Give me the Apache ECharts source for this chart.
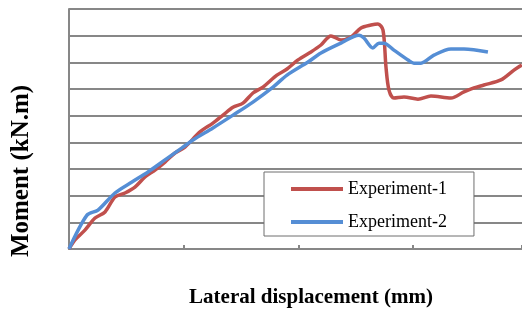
<!DOCTYPE html>
<html>
<head>
<meta charset="utf-8">
<script src="https://cdn.jsdelivr.net/npm/echarts@6/dist/echarts.min.js"></script>
<style>
  html, body { margin: 0; padding: 0; background: #fff; }
  #chart { width: 522px; height: 311px; }
</style>
</head>
<body>
<div id="chart"></div>
<script>
// Experiment-1 (red) : [displacement, moment]
const exp1 = [
  [0, 0], [0.52, 3.4], [1.39, 7.1], [2.27, 11.6], [3.14, 13.9], [4.01, 19.5],
  [4.88, 21.0], [5.75, 23.2], [6.63, 27.0], [7.5, 29.6], [8.37, 32.6],
  [9.24, 36.0], [10.11, 38.2], [11.42, 43.9], [12.55, 47.2], [13.43, 50.2],
  [14.3, 53.2], [15.17, 54.7], [16.04, 58.5], [16.91, 60.7], [18.13, 65.2],
  [19.01, 67.5], [19.97, 70.9], [21.1, 73.9], [21.97, 76.5], [22.84, 79.9],
  [23.71, 78.4], [24.59, 79.5], [25.46, 82.9], [26.33, 84.0], [26.94, 84.4],
  [27.38, 82.1], [27.64, 68.2], [27.9, 59.6], [28.33, 56.6], [29.21, 57.0],
  [30.43, 56.2], [31.56, 57.4], [33.3, 56.6], [34.44, 58.9], [35.31, 60.4],
  [36.18, 61.5], [37.66, 63.4], [38.8, 67.1], [39.49, 69.0]
]

// Experiment-2 (blue)
const exp2 = [
  [0, 0], [1.57, 12.7], [2.53, 14.6], [4.01, 21.0], [5.49, 25.1], [6.89, 28.9],
  [8.37, 33.4], [9.85, 37.9], [10.81, 40.9], [12.55, 45.4], [14.3, 50.2],
  [16.04, 55.1], [17.79, 60.7], [19.01, 65.2], [20.84, 70.1], [21.97, 73.5],
  [23.71, 77.2], [25.28, 80.2], [25.72, 79.1], [26.5, 75.4], [27.03, 77.2],
  [27.46, 77.2], [28.33, 74.6], [29.56, 70.9], [30.08, 69.7], [30.69, 69.7],
  [31.82, 72.7], [33.3, 75.0], [34.44, 75.0], [36.53, 73.9]
]

const seriesNames = ['Experiment-1', 'Experiment-2']
const seriesColors = ['#C0504D', '#558ED5']

const chart = echarts.init(document.getElementById('chart'))

const gridColor = '#878787'
const serif = '"Liberation Serif", "DejaVu Serif", serif'

const option = {
  animation: false,
  grid: { left: 69, right: 0, top: 9, bottom: 62 },
  xAxis: {
    type: 'value',
    min: 0,
    max: 39.5,
    interval: 10,
    axisLine: { show: true, lineStyle: { color: gridColor, width: 2 } },
    axisTick: { show: true, inside: true, length: 4, lineStyle: { color: gridColor, width: 2 } },
    axisLabel: { show: false },
    splitLine: { show: false }
  },
  yAxis: {
    type: 'value',
    min: 0,
    max: 90,
    interval: 10,
    axisLine: { show: true, lineStyle: { color: gridColor, width: 2 } },
    axisTick: { show: false },
    axisLabel: { show: false },
    splitLine: { show: true, lineStyle: { color: gridColor, width: 2 } }
  },
  legend: {
    orient: 'vertical',
    left: 264,
    top: 172,
    padding: [8, 27, 5, 27],
    icon: 'rect',
    itemWidth: 52,
    itemHeight: 4,
    itemGap: 15,
    backgroundColor: '#fff',
    borderColor: '#6e6e6e',
    borderWidth: 1,
    textStyle: { fontFamily: serif, fontSize: 18, color: '#000' },
    data: seriesNames
  },
  graphic: [
    {
      type: 'text',
      x: 22,
      y: 171,
      rotation: Math.PI / 2,
      style: {
        text: 'Moment (kN.m)',
        font: 'bold 25px ' + serif,
        fill: '#000',
        align: 'center',
        verticalAlign: 'middle'
      }
    },
    {
      type: 'text',
      x: 311,
      y: 298,
      style: {
        text: 'Lateral displacement (mm)',
        font: 'bold 21px ' + serif,
        fill: '#000',
        align: 'center',
        verticalAlign: 'middle'
      }
    }
  ],
  series: [
    {
      name: seriesNames[0],
      type: 'line',
      data: exp1,
      symbol: 'none',
      smooth: 0.3,
      lineStyle: { color: seriesColors[0], width: 3.5 },
      itemStyle: { color: seriesColors[0] }
    },
    {
      name: seriesNames[1],
      type: 'line',
      data: exp2,
      symbol: 'none',
      smooth: 0.3,
      lineStyle: { color: seriesColors[1], width: 3.5 },
      itemStyle: { color: seriesColors[1] }
    }
  ]
}

chart.setOption(option)
</script>
</body>
</html>
